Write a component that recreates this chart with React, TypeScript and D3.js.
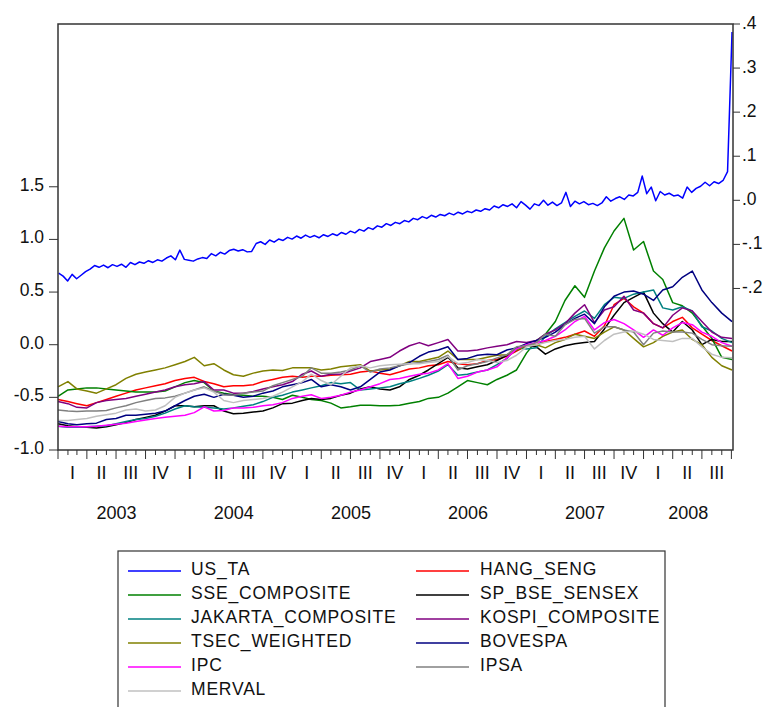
import React from 'react';
import * as d3 from 'd3';

const W = 771;
const H = 707;
const FONT = "'Liberation Sans', Arial, Helvetica, sans-serif";

// axis ticks
const leftTickValues = [-1.0, -0.5, 0.0, 0.5, 1.0, 1.5];
const leftTickLabels = ['-1.0', '-0.5', '0.0', '0.5', '1.0', '1.5'];
const rightTickValues = [-0.2, -0.1, 0.0, 0.1, 0.2, 0.3, 0.4];
const rightTickLabels = ['-.2', '-.1', '.0', '.1', '.2', '.3', '.4'];
const quarterLabels = ['I', 'II', 'III', 'IV'];

// US_TA (right axis), biweekly observations from 2003-01-03
const usTA = [
  -0.165, -0.172, -0.183, -0.168, -0.178, -0.170, -0.162, -0.156, -0.148, -0.152,
  -0.147, -0.153, -0.146, -0.150, -0.145, -0.152, -0.141, -0.146, -0.140, -0.143,
  -0.137, -0.141, -0.135, -0.138, -0.131, -0.126, -0.135, -0.113, -0.134, -0.136,
  -0.138, -0.133, -0.130, -0.132, -0.121, -0.126, -0.118, -0.122, -0.114, -0.111,
  -0.115, -0.112, -0.117, -0.116, -0.098, -0.094, -0.100, -0.090, -0.095, -0.088,
  -0.091, -0.084, -0.088, -0.081, -0.086, -0.079, -0.084, -0.080, -0.085, -0.078,
  -0.082, -0.076, -0.080, -0.073, -0.077, -0.070, -0.074, -0.066, -0.070, -0.062,
  -0.066, -0.058, -0.061, -0.053, -0.057, -0.050, -0.053, -0.046, -0.049, -0.041,
  -0.044, -0.037, -0.041, -0.034, -0.038, -0.032, -0.035, -0.029, -0.033, -0.027,
  -0.031, -0.025, -0.028, -0.022, -0.025, -0.019, -0.022, -0.013, -0.017, -0.010,
  -0.014, -0.008, -0.017, -0.003, -0.011, -0.020, -0.008, -0.012, 0.000, -0.011,
  -0.004, -0.012, -0.006, 0.018, -0.014, -0.002, -0.008, -0.003, -0.010, -0.007,
  -0.012, -0.006, 0.008, -0.002, 0.004, 0.008, 0.002, 0.012, 0.010, 0.018,
  0.055, 0.015, 0.030, -0.001, 0.020, 0.012, 0.016, 0.010, 0.012, 0.005,
  0.030, 0.018, 0.027, 0.032, 0.041, 0.033, 0.042, 0.038, 0.045, 0.065,
  0.382,
];

// monthly observations (first of month, Jan 2003 .. Sep 2008) + final 2008-10-03
const hangSeng = [
  -0.52, -0.54, -0.56, -0.58, -0.55, -0.52, -0.49, -0.46, -0.43, -0.41,
  -0.39, -0.37, -0.34, -0.32, -0.31, -0.35, -0.37, -0.40, -0.39, -0.39,
  -0.38, -0.35, -0.33, -0.31, -0.30, -0.31, -0.30, -0.30, -0.29, -0.285,
  -0.28, -0.26, -0.25, -0.27, -0.285, -0.26, -0.23, -0.22, -0.20, -0.19,
  -0.16, -0.18, -0.19, -0.18, -0.15, -0.14, -0.11, -0.06, -0.01, 0.00,
  0.03, 0.05, 0.07, 0.10, 0.13, 0.08, 0.18, 0.38, 0.44, 0.36,
  0.30, 0.20, 0.16, 0.22, 0.26, 0.16, 0.10, 0.04, -0.01, -0.06,
];
const sseComposite = [
  -0.49, -0.43, -0.42, -0.41, -0.41, -0.42, -0.43, -0.44, -0.45, -0.45,
  -0.45, -0.44, -0.40, -0.36, -0.34, -0.36, -0.44, -0.46, -0.475, -0.48,
  -0.49, -0.49, -0.50, -0.52, -0.48, -0.50, -0.52, -0.53, -0.555, -0.60,
  -0.59, -0.575, -0.575, -0.58, -0.58, -0.575, -0.555, -0.54, -0.51, -0.50,
  -0.46, -0.40, -0.34, -0.36, -0.38, -0.33, -0.29, -0.24, -0.08, 0.04,
  0.10, 0.22, 0.42, 0.56, 0.45, 0.70, 0.92, 1.08, 1.20, 0.90,
  0.98, 0.70, 0.62, 0.40, 0.37, 0.30, 0.18, 0.06, -0.12, -0.14,
];
const spBseSensex = [
  -0.75, -0.77, -0.78, -0.785, -0.79, -0.78, -0.76, -0.74, -0.71, -0.69,
  -0.67, -0.63, -0.58, -0.58, -0.59, -0.58, -0.58, -0.63, -0.655, -0.65,
  -0.64, -0.63, -0.60, -0.56, -0.555, -0.53, -0.51, -0.52, -0.51, -0.48,
  -0.46, -0.42, -0.40, -0.42, -0.43, -0.40, -0.33, -0.29, -0.24, -0.18,
  -0.12, -0.22, -0.23, -0.21, -0.19, -0.15, -0.10, -0.05, -0.01, -0.02,
  -0.09, -0.04, -0.01, 0.01, 0.02, 0.03, 0.15, 0.28, 0.40, 0.45,
  0.50, 0.30, 0.20, 0.12, 0.22, 0.14, 0.00, 0.05, 0.03, 0.03,
];
const jakartaComposite = [
  -0.775, -0.785, -0.785, -0.78, -0.775, -0.77, -0.75, -0.73, -0.71, -0.70,
  -0.68, -0.65, -0.61, -0.58, -0.59, -0.595, -0.60, -0.61, -0.60, -0.585,
  -0.57, -0.54, -0.50, -0.48, -0.45, -0.43, -0.41, -0.39, -0.36, -0.37,
  -0.36, -0.43, -0.42, -0.41, -0.40, -0.37, -0.35, -0.32, -0.29, -0.25,
  -0.19, -0.29, -0.28, -0.26, -0.24, -0.19, -0.13, -0.03, -0.04, -0.03,
  0.08, 0.15, 0.21, 0.27, 0.32, 0.25, 0.38, 0.45, 0.44, 0.48,
  0.50, 0.52, 0.35, 0.33, 0.36, 0.32, 0.17, 0.13, 0.06, 0.02,
];
const kospiComposite = [
  -0.54, -0.56, -0.595, -0.60, -0.55, -0.53, -0.52, -0.51, -0.49, -0.47,
  -0.45, -0.43, -0.40, -0.38, -0.37, -0.35, -0.43, -0.43, -0.46, -0.46,
  -0.445, -0.42, -0.40, -0.38, -0.35, -0.28, -0.25, -0.30, -0.28, -0.28,
  -0.25, -0.22, -0.16, -0.14, -0.12, -0.06, -0.01, 0.02, -0.01, 0.02,
  0.05, -0.06, -0.06, -0.05, -0.03, -0.015, 0.00, 0.03, 0.02, 0.04,
  0.10, 0.14, 0.20, 0.30, 0.38, 0.21, 0.33, 0.36, 0.46, 0.33,
  0.30, 0.20, 0.16, 0.28, 0.35, 0.32, 0.22, 0.12, 0.07, 0.06,
];
const tsecWeighted = [
  -0.40, -0.35, -0.42, -0.44, -0.46, -0.42, -0.38, -0.32, -0.28, -0.26,
  -0.24, -0.22, -0.19, -0.16, -0.12, -0.20, -0.18, -0.24, -0.285, -0.30,
  -0.27, -0.25, -0.24, -0.245, -0.22, -0.22, -0.22, -0.24, -0.23, -0.21,
  -0.20, -0.19, -0.25, -0.24, -0.23, -0.20, -0.16, -0.16, -0.14, -0.12,
  -0.06, -0.14, -0.14, -0.14, -0.12, -0.10, -0.095, -0.05, -0.01, 0.00,
  -0.03, 0.02, 0.05, 0.10, 0.08, 0.06, 0.12, 0.17, 0.14, 0.06,
  -0.02, 0.02, 0.08, 0.12, 0.14, 0.05, 0.00, -0.12, -0.20, -0.24,
];
const bovespa = [
  -0.73, -0.75, -0.76, -0.75, -0.745, -0.71, -0.70, -0.67, -0.67, -0.66,
  -0.65, -0.63, -0.58, -0.53, -0.49, -0.47, -0.50, -0.47, -0.48, -0.50,
  -0.49, -0.46, -0.44, -0.40, -0.38, -0.36, -0.33, -0.40, -0.38, -0.40,
  -0.43, -0.40, -0.33, -0.26, -0.24, -0.20, -0.17, -0.11, -0.07, -0.05,
  -0.02, -0.14, -0.13, -0.10, -0.09, -0.095, -0.05, -0.03, 0.01, 0.04,
  0.07, 0.12, 0.19, 0.25, 0.29, 0.20, 0.36, 0.46, 0.50, 0.51,
  0.48, 0.42, 0.52, 0.55, 0.64, 0.70, 0.52, 0.40, 0.30, 0.22,
];
const ipc = [
  -0.775, -0.78, -0.78, -0.78, -0.775, -0.765, -0.755, -0.745, -0.73, -0.715,
  -0.70, -0.69, -0.68, -0.67, -0.645, -0.59, -0.63, -0.625, -0.60, -0.60,
  -0.595, -0.58, -0.57, -0.55, -0.51, -0.49, -0.475, -0.51, -0.50, -0.48,
  -0.45, -0.43, -0.40, -0.37, -0.33, -0.32, -0.30, -0.28, -0.27, -0.24,
  -0.18, -0.32, -0.30, -0.26, -0.24, -0.21, -0.125, -0.04, 0.00, 0.02,
  0.04, 0.08, 0.14, 0.22, 0.27, 0.14, 0.21, 0.24, 0.20, 0.14,
  0.07, 0.14, 0.09, 0.16, 0.21, 0.19, 0.12, 0.08, 0.02, -0.015,
];
const ipsa = [
  -0.62, -0.63, -0.635, -0.63, -0.63, -0.625, -0.60, -0.58, -0.55, -0.53,
  -0.51, -0.505, -0.49, -0.46, -0.43, -0.40, -0.44, -0.475, -0.48, -0.46,
  -0.45, -0.44, -0.39, -0.36, -0.33, -0.30, -0.22, -0.27, -0.27, -0.26,
  -0.24, -0.20, -0.26, -0.23, -0.22, -0.20, -0.18, -0.17, -0.16, -0.14,
  -0.10, -0.24, -0.20, -0.18, -0.16, -0.125, -0.095, -0.02, -0.01, 0.02,
  0.10, 0.08, 0.19, 0.24, 0.25, 0.11, 0.17, 0.17, 0.14, 0.12,
  0.00, 0.11, 0.13, 0.12, 0.12, 0.11, 0.05, 0.00, -0.01, -0.015,
];
const merval = [
  -0.72, -0.72, -0.71, -0.70, -0.68, -0.665, -0.65, -0.62, -0.61, -0.63,
  -0.62, -0.58, -0.50, -0.46, -0.43, -0.41, -0.45, -0.53, -0.55, -0.53,
  -0.52, -0.51, -0.49, -0.45, -0.40, -0.35, -0.28, -0.34, -0.38, -0.30,
  -0.22, -0.20, -0.22, -0.20, -0.19, -0.185, -0.18, -0.18, -0.17, -0.16,
  -0.11, -0.18, -0.17, -0.14, -0.15, -0.17, -0.15, -0.10, -0.02, 0.00,
  0.02, 0.04, 0.05, 0.07, 0.08, -0.04, 0.04, 0.10, 0.12, 0.13,
  0.10, 0.05, 0.04, 0.03, 0.06, 0.06, -0.02, -0.09, -0.12, -0.125,
];

const seriesNames = [
  'US_TA', 'HANG_SENG', 'SSE_COMPOSITE', 'SP_BSE_SENSEX', 'JAKARTA_COMPOSITE',
  'KOSPI_COMPOSITE', 'TSEC_WEIGHTED', 'BOVESPA', 'IPC', 'IPSA', 'MERVAL',
];
const seriesColors = [
  '#0000FF', '#FF0000', '#008000', '#000000', '#008080',
  '#800080', '#808000', '#000080', '#FF00FF', '#808080', '#C0C0C0',
];
const seriesValues = [
  usTA, hangSeng, sseComposite, spBseSensex, jakartaComposite,
  kospiComposite, tsecWeighted, bovespa, ipc, ipsa, merval,
];

export default function App() {
  const plotL = 58, plotR = 733, plotT = 24, plotB = 450;
  const start = new Date(2003, 0, 1);
  const end = new Date(2008, 9, 6);
  const x = d3.scaleTime().domain([start, end]).range([plotL, plotR]);
  const yL = d3.scaleLinear().domain([-1, 3.046]).range([plotB, plotT]);
  const yR = d3.scaleLinear().domain([-0.5665, 0.4]).range([plotB, plotT]);

  const biweekly = usTA.map((_, i) => d3.timeDay.offset(new Date(2003, 0, 3), 14 * i));
  const monthly = d3.timeMonth.range(start, new Date(2008, 9, 1)).concat([new Date(2008, 9, 3)]);

  const months = d3.timeMonth.range(start, end);
  const quarters = d3.timeMonth.every(3)!.range(start, end);
  const yearsList = d3.timeYear.range(start, end);

  const legendL = 118, legendT = 551, legendR = 665;
  const rowH = 24;

  return (
    <svg width={W} height={H} style={{ position: 'absolute', left: 0, top: 0, display: 'block', background: '#fff' }}
      fontFamily={FONT}>
      <rect x={0} y={0} width={W} height={H} fill="#fff" />
      {/* series */}
      {seriesValues.map((vals, si) => {
        const dates = si === 0 ? biweekly : monthly;
        const ys = si === 0 ? yR : yL;
        const line = d3.line<number>().x((_, i) => x(dates[i])).y((d) => ys(d));
        return (
          <path key={si} d={line(vals) || ''} fill="none" stroke={seriesColors[si]}
            strokeWidth={1.5} strokeLinejoin="round" />
        );
      })}
      {/* frame */}
      <rect x={plotL} y={plotT} width={plotR - plotL} height={plotB - plotT} fill="none" stroke="#333" strokeWidth={1.5} />
      {/* left axis */}
      {leftTickValues.map((v, i) => (
        <g key={'l' + i}>
          <line x1={plotL - 9} x2={plotL} y1={yL(v)} y2={yL(v)} stroke="#333" strokeWidth={1} />
          <text x={44} y={yL(v) + 4} textAnchor="end" fontSize={17.5} fill="#111">{leftTickLabels[i]}</text>
        </g>
      ))}
      {/* right axis */}
      {rightTickValues.map((v, i) => (
        <g key={'r' + i}>
          <line x1={plotR} x2={plotR + 7} y1={yR(v)} y2={yR(v)} stroke="#333" strokeWidth={1} />
          <text x={742} y={yR(v) + 4.5} textAnchor="start" fontSize={17.5} fill="#111">{rightTickLabels[i]}</text>
        </g>
      ))}
      {/* bottom axis */}
      {months.map((m, i) => {
        const isQ = m.getMonth() % 3 === 0;
        return (
          <line key={'m' + i} x1={x(m)} x2={x(m)} y1={plotB} y2={plotB + (isQ ? 9 : 5)} stroke="#333" strokeWidth={1} />
        );
      })}
      {quarters.map((q, i) => {
        const next = d3.timeMonth.offset(q, 3);
        if (next > end) return null;
        const cx = (x(q) + x(next)) / 2;
        return (
          <text key={'q' + i} x={cx} y={479} textAnchor="middle" fontSize={18} fill="#111">
            {quarterLabels[Math.floor(q.getMonth() / 3)]}
          </text>
        );
      })}
      {yearsList.map((yr, i) => {
        const next = d3.timeYear.offset(yr, 1);
        const cx = (x(yr) + x(next < end ? next : end)) / 2;
        return (
          <text key={'y' + i} x={cx} y={519} textAnchor="middle" fontSize={18} fill="#111">
            {yr.getFullYear()}
          </text>
        );
      })}
      {/* legend */}
      <rect x={legendL} y={legendT} width={legendR - legendL} height={H - legendT + 20} fill="#fff" stroke="#333" strokeWidth={1.2} />
      {seriesNames.map((name, i) => {
        const col = i % 2;
        const row = Math.floor(i / 2);
        const lx = col === 0 ? 128 : 416;
        const tx = col === 0 ? 191 : 480;
        const ly = 571 + row * rowH;
        return (
          <g key={'lg' + i}>
            <line x1={lx} x2={lx + 53} y1={ly} y2={ly} stroke={seriesColors[i]} strokeWidth={1.5} />
            <text x={tx} y={ly + 4} fontSize={17.5} letterSpacing={0.8} fill="#111">{name}</text>
          </g>
        );
      })}
    </svg>
  );
}
